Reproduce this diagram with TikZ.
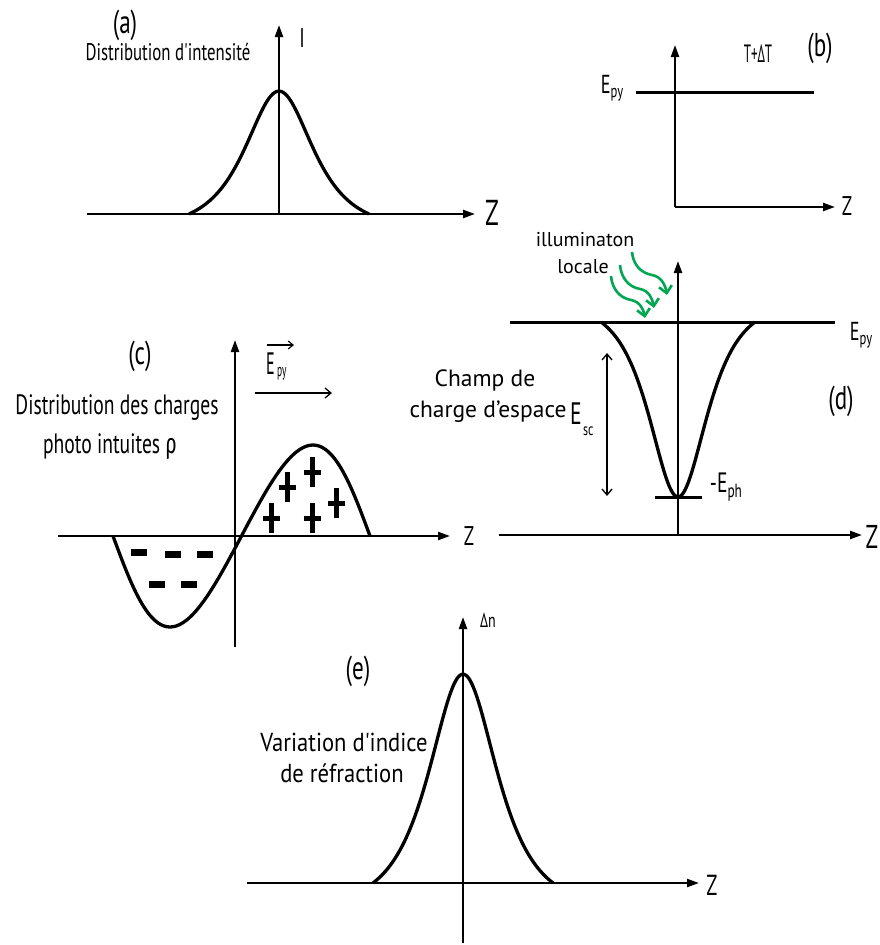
\documentclass[tikz,border=0pt]{standalone}
\usepackage{fontspec}
\setmainfont{PT Sans}
\newfontfamily\cond{PT Sans}[FakeStretch=0.7]
\newfontfamily\econd{PT Sans}[FakeStretch=0.87]
\newfontfamily\xcond{PT Sans}[FakeStretch=0.52]
\newfontfamily\grkcond{Fira Sans}[FakeStretch=0.7]
\usetikzlibrary{arrows.meta}
\definecolor{illum}{RGB}{0,166,81}
\newcommand\bumppath{plot[smooth,domain=-1:1,samples=61] (\x,{(1/cosh(3*\x)-0.0993)/0.9007})}
\newcommand\fs[1]{\fontsize{#1}{#1}\selectfont}
\newcommand\lowsub[3]{\raisebox{-#2}{\fs{#1}#3}}
\begin{document}
\begin{tikzpicture}[x=1pt,y=-1pt,
  axis/.style={line width=2.2pt,-{Triangle[length=12pt,width=8pt]}},
  curve/.style={line width=3.3pt,line join=round},
  level/.style={line width=3pt},
  thinarrow/.style={line width=1.3pt,-{Straight Barb[length=6pt,width=10pt]}},
  dblarrow/.style={line width=1.3pt,{Straight Barb[length=6pt,width=10pt]}-{Straight Barb[length=6pt,width=10pt]}},
  greenarrow/.style={illum,line width=2.6pt,-{Straight Barb[length=7pt,width=13pt,line width=2.6pt]}},
  lbl/.style={font=\cond\fs{33},inner sep=0pt},
  txt/.style={inner sep=0pt,align=center},
  zl/.style={inner sep=0pt}]
\useasboundingbox (0,0) rectangle (880,945);

% ---------------- (a)
\coordinate (aL) at (87,214);
\coordinate (aR) at (475,214);
\coordinate (aO) at (279,214);
\coordinate (aT) at (279,25);
\draw[axis] (aL) -- (aR);
\draw[axis] (aO) -- (aT);
\begin{scope}[shift={(279,214)},xscale=90,yscale=-123]
  \draw[curve] \bumppath;
\end{scope}
\node[lbl] (alab) at (125,25) {(a)};
\node[txt,font=\cond\fs{24}] (atxt) at (168,52) {Distribution d'intensité};
\node[zl,font=\cond\fs{27}] (aI) at (302,38) {I};
\node[zl,font=\cond\fs{36}] (aZ) at (492,213) {Z};

% ---------------- (b)
\coordinate (bO) at (675,207);
\coordinate (bT) at (675,45);
\coordinate (bR) at (835,207);
\coordinate (bE1) at (636,92);
\coordinate (bE2) at (814,92);
\draw[axis] (bO) -- (bT);
\draw[axis] (bO) -- (bR);
\draw[level] (bE1) -- (bE2);
\node[zl,font=\cond\fs{26}] (bEpy) at (612,88) {E\lowsub{18}{0.3ex}{py}};
\node[zl,font=\xcond\fs{25}] (bT2) at (758,54) {T+ΔT};
\node[lbl] (blab) at (820,48) {(b)};
\node[zl,font=\cond\fs{27}] (bZ) at (847,206) {Z};

% ---------------- (c)
\coordinate (cL) at (58,536);
\coordinate (cR) at (450,536);
\coordinate (cB) at (235,647);
\coordinate (cT) at (235,340);
\draw[axis] (cL) -- (cR);
\draw[axis] (cB) -- (cT);
\draw[curve] plot[smooth,variable=\t,domain=0:1,samples=81] ({113+257*\t-7.25*sin(360*\t)},{536+91*sin(360*\t)});
\foreach \x/\y in {139/552,173/554,205/554,157/584,189/584}
  \draw[line width=7pt] (\x-8,\y) -- (\x+8,\y);
\foreach \x/\y in {287/487,312/472,336/503,271/518,312/518}
  \draw[line width=5pt] (\x-8.5,\y) -- (\x+8.5,\y) (\x,\y-15) -- (\x,\y+15);
\node[lbl] (clab) at (140,356) {(c)};
\node[zl,anchor=west,font=\xcond\fs{31}] (cE) at (266,364) {E};
\node[zl,anchor=west,font=\xcond\fs{18}] (cpy) at (277,374) {py};
\coordinate (cv1) at (267,345);
\coordinate (cv2) at (294,345);
\draw[line width=1.1pt,-{Straight Barb[length=5pt,width=8pt]}] (cv1) -- (cv2);
\coordinate (cf1) at (255,393);
\coordinate (cf2) at (332,393);
\draw[thinarrow] (cf1) -- (cf2);
\node[txt,font=\cond\fs{28}] (ctxt1) at (117,408) {Distribution des charges};
\node[txt,font=\cond\fs{28}] (ctxt2) at (110,447) {photo intuites {\grkcond ρ}};
\node[zl,font=\cond\fs{27}] (cZ) at (469,536) {Z};

% ---------------- (d)
\coordinate (dL) at (499,535);
\coordinate (dR) at (862,535);
\coordinate (dO) at (678,535);
\coordinate (dT) at (678,261);
\coordinate (dE1) at (510,322);
\coordinate (dE2) at (835,322);
\coordinate (dp1) at (655,497);
\coordinate (dp2) at (702,497);
\draw[axis] (dL) -- (dR);
\draw[axis] (dO) -- (dT);
\draw[level] (dE1) -- (dE2);
\draw[level] (dp1) -- (dp2);
\begin{scope}[shift={(678,322)},xscale=77,yscale=175]
  \draw[curve] \bumppath;
\end{scope}
\coordinate (dd1) at (607,353);
\coordinate (dd2) at (607,496);
\draw[dblarrow] (dd1) -- (dd2);
\node[zl,font=\cond\fs{26}] (dEpy) at (861,335) {E\lowsub{18}{0.3ex}{py}};
\node[zl,font=\cond\fs{28}] (dEph) at (726,487) {-E\lowsub{19}{0.35ex}{ph}};
\node[lbl] (dlab) at (841,401) {(d)};
\node[txt,font=\fs{23.5}] (dtxt1) at (485,380) {Champ de};
\node[txt,font=\fs{23.5}] (dtxt2) at (488,412) {charge d'espace};
\node[zl,anchor=west,font=\cond\fs{31}] (dE) at (570,414) {E};
\node[zl,anchor=west,font=\cond\fs{17}] (dsc) at (583,431) {sc};
\node[zl,font=\cond\fs{33}] (dZ) at (872,537) {Z};
\node[txt,font=\fs{20}] (ill1) at (585,240) {illuminaton};
\node[txt,font=\fs{20}] (ill2) at (583,267) {locale};
\coordinate (g1s) at (611,276); \coordinate (g1m) at (631,300); \coordinate (g1e) at (645,318);
\coordinate (g2s) at (620,265); \coordinate (g2m) at (640,289); \coordinate (g2e) at (654,308);
\coordinate (g3s) at (632,252); \coordinate (g3m) at (652,275); \coordinate (g3e) at (667,295);
\draw[greenarrow] (g1s) to[out=-85,in=170] (g1m) to[out=-10,in=100] (g1e);
\draw[greenarrow] (g2s) to[out=-85,in=170] (g2m) to[out=-10,in=100] (g2e);
\draw[greenarrow] (g3s) to[out=-85,in=170] (g3m) to[out=-10,in=100] (g3e);

% ---------------- (e)
\coordinate (eL) at (247,883);
\coordinate (eR) at (699,883);
\coordinate (eB) at (463,943);
\coordinate (eT) at (463,617);
\draw[axis] (eL) -- (eR);
\draw[axis] (eB) -- (eT);
\begin{scope}[shift={(463,883)},xscale=90,yscale=-209]
  \draw[curve] \bumppath;
\end{scope}
\node[zl,font=\cond\fs{20}] (edn) at (488,620) {Δn};
\node[lbl] (elab) at (358,671) {(e)};
\node[txt,font=\econd\fs{26}] (etxt1) at (344,742) {Variation d'indice};
\node[txt,font=\econd\fs{26}] (etxt2) at (342,773) {de réfraction};
\node[zl,font=\cond\fs{29}] (eZ) at (712,885) {Z};
\end{tikzpicture}
\end{document}
